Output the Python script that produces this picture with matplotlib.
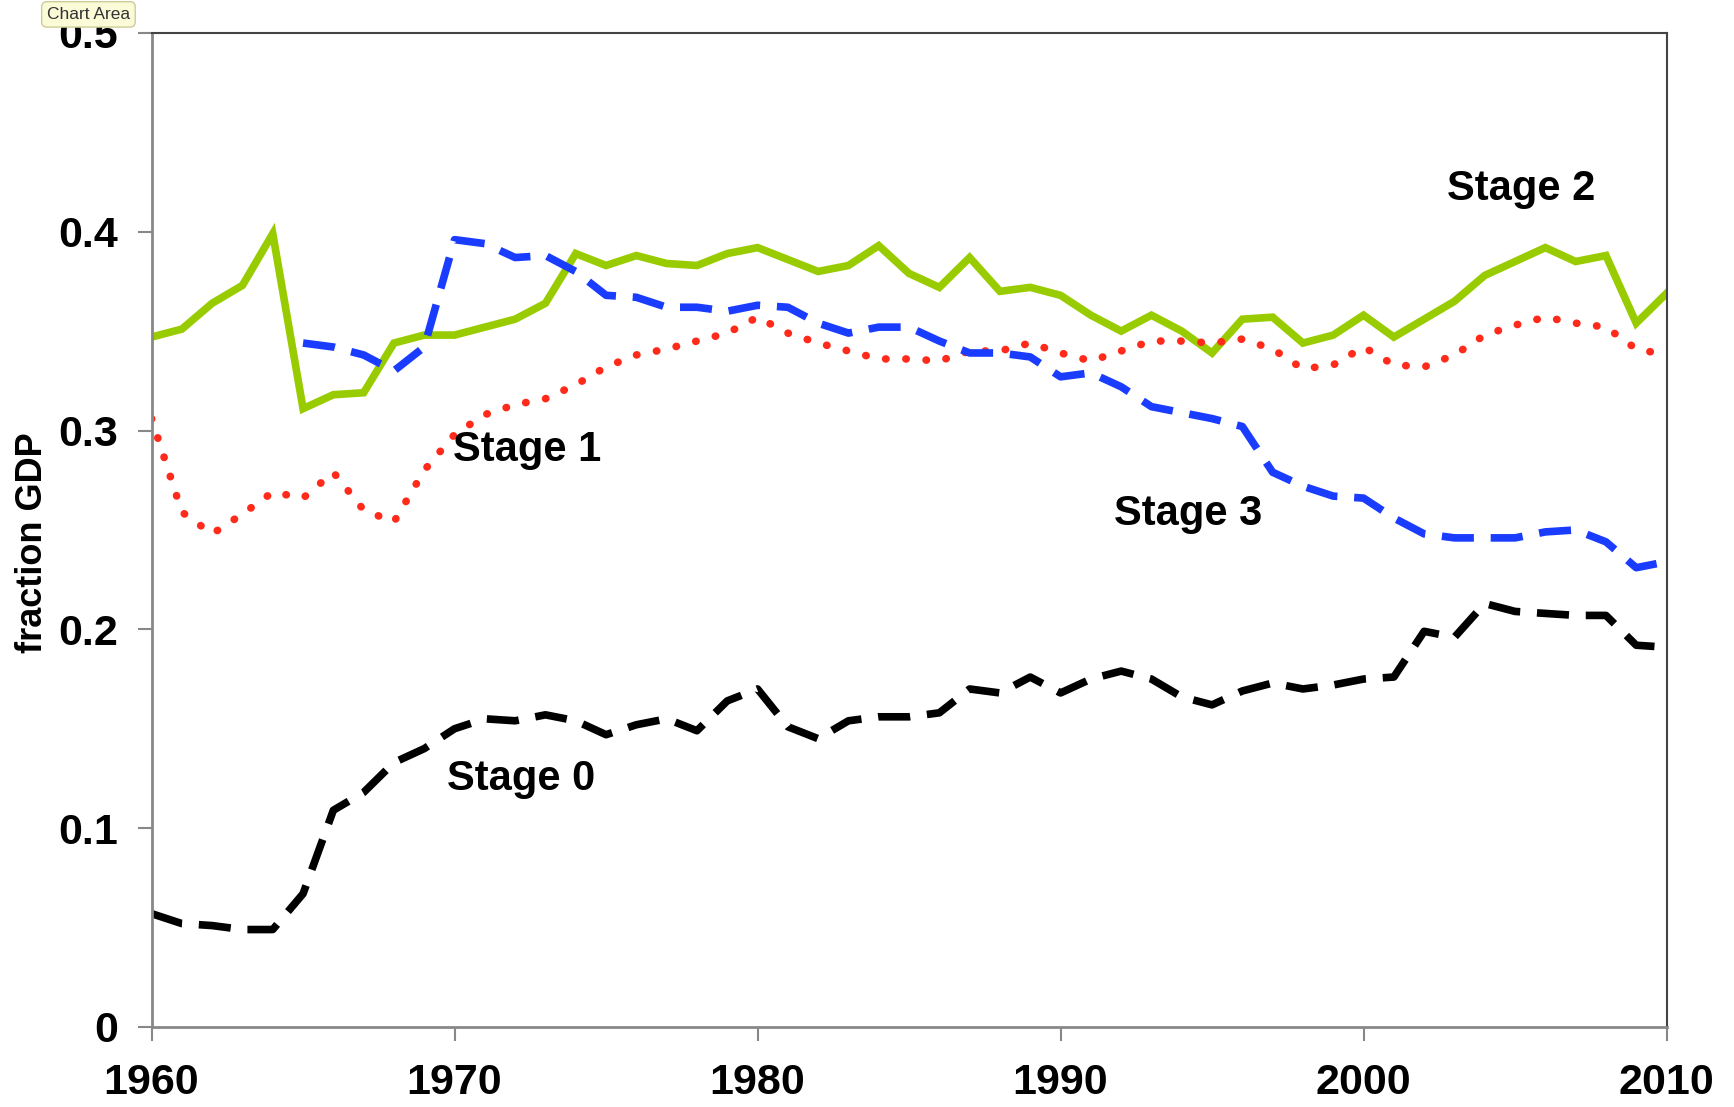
import matplotlib
matplotlib.use('Agg')
import matplotlib.pyplot as plt
import numpy as np

plt.rcParams['font.family'] = ['Liberation Sans', 'DejaVu Sans']

# data
years = np.arange(1960, 2011)
stage0 = [0.057, 0.052, 0.051, 0.049, 0.049, 0.067, 0.109, 0.118, 0.133, 0.140,
          0.150, 0.155, 0.154, 0.157, 0.154, 0.147, 0.152, 0.155, 0.149, 0.164,
          0.170, 0.151, 0.145, 0.154, 0.156, 0.156, 0.158, 0.170, 0.168, 0.176,
          0.168, 0.175, 0.179, 0.175, 0.166, 0.162, 0.169, 0.173, 0.170, 0.172,
          0.175, 0.176, 0.199, 0.196, 0.213, 0.209, 0.208, 0.207, 0.207, 0.192,
          0.191]
stage1 = [0.306, 0.259, 0.248, 0.258, 0.269, 0.266, 0.279, 0.260, 0.254, 0.280,
          0.298, 0.308, 0.313, 0.316, 0.323, 0.332, 0.338, 0.341, 0.345, 0.349,
          0.357, 0.349, 0.344, 0.340, 0.336, 0.336, 0.335, 0.340, 0.340, 0.344,
          0.339, 0.335, 0.340, 0.345, 0.345, 0.344, 0.346, 0.341, 0.331, 0.333,
          0.342, 0.333, 0.332, 0.338, 0.348, 0.353, 0.357, 0.354, 0.352, 0.341,
          0.338]
stage2 = [0.347, 0.351, 0.364, 0.373, 0.399, 0.311, 0.318, 0.319, 0.344, 0.348,
          0.348, 0.352, 0.356, 0.364, 0.389, 0.383, 0.388, 0.384, 0.383, 0.389,
          0.392, 0.386, 0.380, 0.383, 0.393, 0.379, 0.372, 0.387, 0.370, 0.372,
          0.368, 0.358, 0.350, 0.358, 0.350, 0.339, 0.356, 0.357, 0.344, 0.348,
          0.358, 0.347, 0.356, 0.365, 0.378, 0.385, 0.392, 0.385, 0.388, 0.354,
          0.369]
years3 = np.arange(1965, 2011)
stage3 = [0.344, 0.342, 0.338, 0.330, 0.342,
          0.396, 0.394, 0.387, 0.388, 0.380, 0.368, 0.367, 0.362, 0.362, 0.360,
          0.363, 0.362, 0.354, 0.349, 0.352, 0.352, 0.345, 0.339, 0.339, 0.337,
          0.327, 0.329, 0.322, 0.312, 0.309, 0.306, 0.302, 0.279, 0.272, 0.267,
          0.266, 0.256, 0.248, 0.246, 0.246, 0.246, 0.249, 0.250, 0.244, 0.231,
          0.234]

labels = ['Stage 0', 'Stage 1', 'Stage 2', 'Stage 3']
label_pos = [(1972.2, 0.1246), (1972.4, 0.290), (2005.2, 0.4216), (1994.2, 0.258)]

fig = plt.figure(figsize=(17.34, 11.07), dpi=100)
ax = fig.add_axes([0.0874, 0.0723, 0.8737, 0.898])

ax.plot(years, stage2, color='#99cc00', lw=5.5, solid_joinstyle='miter')
ax.plot(years, stage1, color='#ff2a1a', lw=5.5, linestyle=(0, (0.05, 2.6)),
        dash_capstyle='round')
ax.plot(years3, stage3, color='#1a3cff', lw=5.5, linestyle=(0, (4.2, 2.2)))
ax.plot(years, stage0, color='black', lw=5.5, linestyle=(0, (4.2, 2.2)))

for lab, (x, y) in zip(labels, label_pos):
    ax.text(x, y, lab, fontsize=30, fontweight='bold', ha='center', va='center')

ax.set_xlim(1960, 2010)
ax.set_ylim(0, 0.5)
ax.set_xticks([1960, 1970, 1980, 1990, 2000, 2010])
ax.set_yticks([0, 0.1, 0.2, 0.3, 0.4, 0.5])
ax.set_yticklabels(['0', '0.1', '0.2', '0.3', '0.4', '0.5'])
ax.tick_params(axis='both', labelsize=31, colors='#888888', length=10,
               width=1.5, direction='out')
ax.tick_params(axis='y', pad=14)
ax.tick_params(axis='x', pad=16)
for t in ax.get_xticklabels() + ax.get_yticklabels():
    t.set_color('black')
    t.set_fontweight('bold')

for side in ['left', 'bottom']:
    ax.spines[side].set_color('#888888')
    ax.spines[side].set_linewidth(2)
for side in ['top', 'right']:
    ax.spines[side].set_color('#444444')
    ax.spines[side].set_linewidth(1.5)

fig.text(0.019, 0.51, 'fraction GDP', rotation=90, fontsize=26,
         fontweight='bold', ha='center', va='center')

fig.text(0.051, 0.987, 'Chart Area', fontsize=12.5, ha='center', va='center',
         color='#333333',
         bbox=dict(boxstyle='round,pad=0.3', facecolor='#fbfbd8',
                   edgecolor='#cccc99', linewidth=1))

fig.savefig('out.png', dpi=100, facecolor='white')
